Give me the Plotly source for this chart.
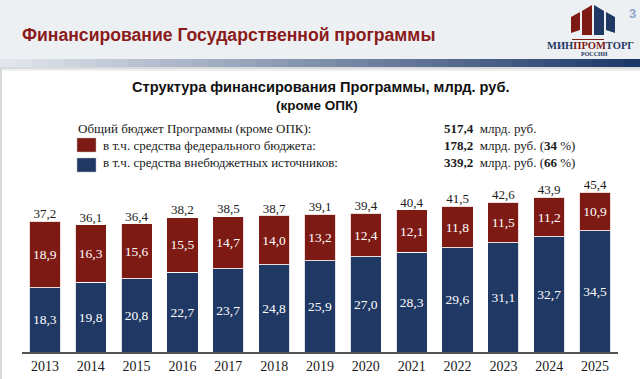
import plotly.graph_objects as go

# ---- data ----
years = ["2013", "2014", "2015", "2016", "2017", "2018", "2019",
         "2020", "2021", "2022", "2023", "2024", "2025"]
federal = [18.9, 16.3, 15.6, 15.5, 14.7, 14.0, 13.2, 12.4, 12.1, 11.8, 11.5, 11.2, 10.9]
extrabudget = [18.3, 19.8, 20.8, 22.7, 23.7, 24.8, 25.9, 27.0, 28.3, 29.6, 31.1, 32.7, 34.5]
totals = [37.2, 36.1, 36.4, 38.2, 38.5, 38.7, 39.1, 39.4, 40.4, 41.5, 42.6, 43.9, 45.4]

total_budget = "517,4"
federal_sum = "178,2"
extra_sum = "339,2"
federal_pct = "34"
extra_pct = "66"

RED = "#7e1a14"
BLUE = "#1f3864"
TITLE_RED = "#8b1a1a"

W, H = 640, 379
ML, MR, MT, MB = 22, 22, 176, 27
PW = W - ML - MR
PH = H - MT - MB


def fx(x):
    return (x - ML) / PW


def fy(y):
    return (H - MB - y) / PH


fig = go.Figure()

fig.add_trace(go.Bar(
    x=years, y=extrabudget, name="внебюджетные",
    marker=dict(color=BLUE, line=dict(color="rgba(255,255,255,0.85)", width=1)),
    texttemplate="%{y:.1f}", textposition="inside", insidetextanchor="middle",
    textangle=0,
    textfont=dict(family="Liberation Serif", size=13.5, color="white"),
))
fig.add_trace(go.Bar(
    x=years, y=federal, name="федеральный",
    marker=dict(color=RED, line=dict(color="rgba(255,255,255,0.85)", width=1)),
    texttemplate="%{y:.1f}", textposition="inside", insidetextanchor="middle",
    textangle=0,
    textfont=dict(family="Liberation Serif", size=13.5, color="white"),
))
fig.add_trace(go.Scatter(
    x=years, y=totals, mode="text", texttemplate="%{y:.1f}",
    textposition="top center", cliponaxis=False,
    textfont=dict(family="Liberation Serif", size=13, color="#1a1a1a"),
))

shapes = []
# header background
shapes.append(dict(type="rect", xref="paper", yref="paper", layer="below",
                   x0=fx(0), x1=fx(640), y0=fy(59), y1=fy(0),
                   fillcolor="#edf0f3", line=dict(width=0)))
# gradient band
n = 40
c0 = (226, 230, 236)
c1 = (28, 56, 104)
for i in range(n):
    t = i / (n - 1)
    c = tuple(int(round(c0[k] + (c1[k] - c0[k]) * t)) for k in range(3))
    shapes.append(dict(type="rect", xref="paper", yref="paper", layer="below",
                       x0=fx(640 * i / n), x1=fx(640 * (i + 1) / n + 0.5),
                       y0=fy(67), y1=fy(59),
                       fillcolor="rgb(%d,%d,%d)" % c, line=dict(width=0)))
shapes.append(dict(type="rect", xref="paper", yref="paper", layer="below",
                   x0=fx(0), x1=fx(640), y0=fy(69), y1=fy(67),
                   fillcolor="#d9dadc", line=dict(width=0)))
shapes.append(dict(type="rect", xref="paper", yref="paper", layer="below",
                   x0=fx(0), x1=fx(640), y0=fy(71), y1=fy(69),
                   fillcolor="#eeeeee", line=dict(width=0)))
# left border line
shapes.append(dict(type="line", xref="paper", yref="paper", layer="below",
                   x0=fx(1), x1=fx(1), y0=fy(379), y1=fy(69),
                   line=dict(color="#c9cbce", width=1.5)))


# logo building
def poly(pts, color):
    d = "M " + " L ".join("%f,%f" % (fx(a), fy(b)) for a, b in pts) + " Z"
    return dict(type="path", xref="paper", yref="paper", path=d,
                fillcolor=color, line=dict(width=0))


shapes.append(poly([(571, 17), (580, 12), (580, 30), (571, 33)], RED))
shapes.append(poly([(582, 11), (592, 5), (592, 35), (582, 35)], RED))
shapes.append(poly([(594, 5), (604, 11), (604, 35), (594, 35)], BLUE))
shapes.append(poly([(606, 12), (615, 17), (615, 33), (606, 30)], BLUE))
shapes.append(dict(type="line", xref="paper", yref="paper",
                   x0=fx(572), x1=fx(604), y0=fy(39.5), y1=fy(39.5),
                   line=dict(color=RED, width=1)))

# legend squares
shapes.append(dict(type="rect", xref="paper", yref="paper",
                   x0=fx(77), x1=fx(96), y0=fy(152), y1=fy(138),
                   fillcolor=RED, line=dict(color="#bbbbbb", width=0.5)))
shapes.append(dict(type="rect", xref="paper", yref="paper",
                   x0=fx(77), x1=fx(96), y0=fy(172), y1=fy(158),
                   fillcolor=BLUE, line=dict(color="#bbbbbb", width=0.5)))

ann = []


def text(x, y, s, size, family, color="#1a1a1a", xanchor="left"):
    ann.append(dict(x=fx(x), y=fy(y), xref="paper", yref="paper", text=s,
                    showarrow=False, xanchor=xanchor, yanchor="middle",
                    font=dict(size=size, family=family, color=color)))


SANS = "Liberation Sans, Arial"
text(20, 35, "<b>Финансирование Государственной программы</b>", 17.6, SANS, TITLE_RED)
text(321, 87, "<b>Структура финансирования Программы, млрд. руб.</b>", 14.6,
     SANS, "#111111", "center")
text(317, 105, "<b>(кроме ОПК)</b>", 13.5, SANS, "#111111", "center")

SERIF = "Liberation Serif"
text(76, 128, "Общий бюджет Программы (кроме ОПК):", 13, SERIF)
text(101, 145, "в т.ч. средства федерального бюджета:", 13, SERIF)
text(101, 163, "в т.ч. средства внебюджетных источников:", 13, SERIF)
text(442, 128, "<b>" + total_budget + "</b>\u00a0\u00a0млрд. руб.", 13, SERIF)
text(442, 145, "<b>" + federal_sum + "</b>\u00a0\u00a0млрд. руб. (<b>" + federal_pct + "</b> %)", 13, SERIF)
text(442, 163, "<b>" + extra_sum + "</b>\u00a0\u00a0млрд. руб. (<b>" + extra_pct + "</b> %)", 13, SERIF)

# logo text
text(590.5, 45, "<b><span style='color:%s'>МИН</span><span style='color:%s'>ПРОМ</span>"
     "<span style='color:%s'>ТОРГ</span></b>" % (BLUE, RED, BLUE), 10.5, SERIF, BLUE, "center")
text(594, 54, "<b>РОССИИ</b>", 6, SERIF, BLUE, "center")
text(632, 13, "<b>3</b>", 13, SANS, "#8ea6c6", "center")

fig.update_layout(
    width=W, height=H,
    margin=dict(l=ML, r=MR, t=MT, b=MB, pad=0),
    barmode="stack", bargap=0.32,
    showlegend=False,
    separators=", ",
    paper_bgcolor="white", plot_bgcolor="white",
    shapes=shapes, annotations=ann,
    xaxis=dict(type="category", showgrid=False, showline=True,
               linecolor="#555555", linewidth=1.5, ticks="",
               tickfont=dict(family=SERIF, size=14, color="#1a1a1a"),
               range=[-0.5, 12.5], fixedrange=True, automargin=False),
    yaxis=dict(visible=False, range=[0, 50], fixedrange=True),
)

fig.write_html("out.html", config={"displayModeBar": False},
               post_script="document.body.style.margin='0';")
